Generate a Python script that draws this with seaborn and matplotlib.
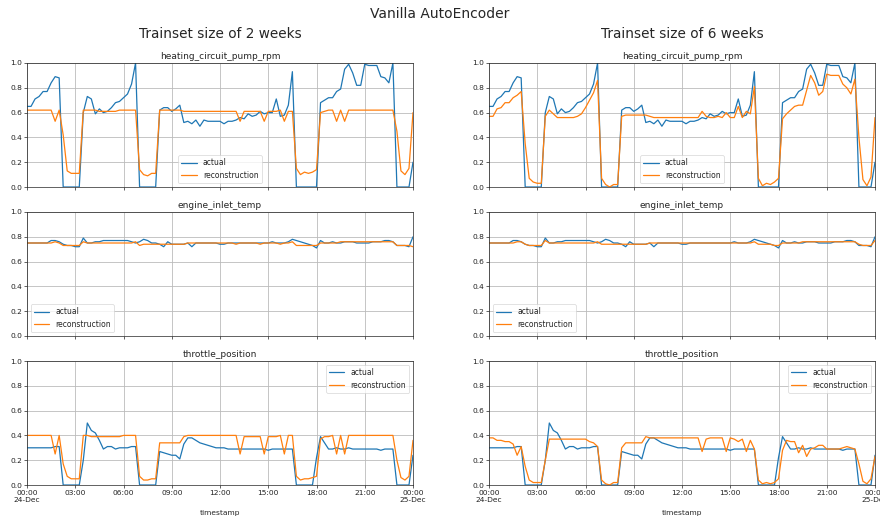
import numpy as np
import pandas as pd
import matplotlib
matplotlib.use("Agg")
import matplotlib.pyplot as plt
import matplotlib.dates as mdates
from matplotlib.ticker import FuncFormatter
import seaborn as sns

# ---------------- data (15-minute samples, 24-Dec 00:00 .. 25-Dec 00:00) ----------------
start_time = "2023-12-24 00:00"
n_points = 97
variables = ["heating_circuit_pump_rpm", "engine_inlet_temp", "throttle_position"]
panel_titles = ["Trainset size of 2 weeks", "Trainset size of 6 weeks"]
series_names = ["actual", "reconstruction"]

heat_actual = [
    0.65, 0.65, 0.71, 0.73, 0.77, 0.77, 0.84, 0.89, 0.88,
    0.00, 0.00, 0.00, 0.00, 0.00,
    0.60, 0.73, 0.71, 0.59, 0.63, 0.60, 0.61, 0.64, 0.68, 0.69, 0.72, 0.75, 0.83, 1.00,
    0.00, 0.00, 0.00, 0.00, 0.00,
    0.62, 0.64, 0.64, 0.61, 0.63, 0.66, 0.52, 0.53, 0.51, 0.54, 0.49, 0.54, 0.53, 0.53,
    0.53, 0.53, 0.51, 0.53, 0.53, 0.54, 0.56, 0.55, 0.59, 0.57, 0.58, 0.61, 0.59, 0.60,
    0.60, 0.71, 0.57, 0.58, 0.66, 0.93,
    0.00, 0.00, 0.00, 0.00, 0.00, 0.00,
    0.68, 0.70, 0.72, 0.72, 0.77, 0.79, 0.95, 0.99, 0.92, 0.82, 0.82, 0.99, 0.98, 0.98,
    0.98, 0.89, 0.88, 0.84, 1.00,
    0.00, 0.00, 0.00, 0.00,
    0.20,
]
heat_recon_2w = [
    0.62, 0.62, 0.62, 0.62, 0.62, 0.62, 0.62, 0.53, 0.62,
    0.42, 0.13, 0.11, 0.11, 0.11,
    0.62, 0.62, 0.62, 0.62, 0.61, 0.61, 0.61, 0.61, 0.61, 0.62, 0.62, 0.62, 0.62, 0.62,
    0.14, 0.10, 0.09, 0.11, 0.11,
    0.62, 0.62, 0.62, 0.62, 0.62, 0.62, 0.61, 0.61, 0.61, 0.61, 0.61, 0.61, 0.61, 0.61,
    0.61, 0.61, 0.61, 0.61, 0.61, 0.61, 0.53, 0.61, 0.61, 0.61, 0.61, 0.61, 0.53, 0.61,
    0.61, 0.61, 0.62, 0.53, 0.61, 0.61,
    0.15, 0.10, 0.12, 0.11, 0.12, 0.14,
    0.60, 0.61, 0.62, 0.62, 0.53, 0.62, 0.53, 0.62, 0.62, 0.62, 0.62, 0.62, 0.62, 0.62,
    0.62, 0.62, 0.62, 0.62, 0.62,
    0.45, 0.13, 0.10, 0.15,
    0.60,
]
heat_recon_6w = [
    0.57, 0.57, 0.63, 0.64, 0.68, 0.68, 0.72, 0.74, 0.77,
    0.35, 0.07, 0.04, 0.03, 0.03,
    0.57, 0.62, 0.59, 0.56, 0.56, 0.56, 0.56, 0.56, 0.57, 0.59, 0.64, 0.70, 0.76, 0.86,
    0.07, 0.02, 0.00, 0.02, 0.02,
    0.57, 0.58, 0.58, 0.58, 0.58, 0.58, 0.58, 0.57, 0.56, 0.56, 0.56, 0.56, 0.56, 0.56,
    0.56, 0.56, 0.56, 0.56, 0.56, 0.56, 0.61, 0.57, 0.56, 0.56, 0.57, 0.56, 0.60, 0.56,
    0.56, 0.65, 0.56, 0.61, 0.59, 0.81,
    0.07, 0.01, 0.03, 0.02, 0.04, 0.07,
    0.55, 0.59, 0.62, 0.65, 0.66, 0.66, 0.78, 0.90, 0.84, 0.74, 0.77, 0.91, 0.90, 0.90,
    0.90, 0.83, 0.80, 0.75, 0.87,
    0.40, 0.06, 0.01, 0.08,
    0.56,
]

engine_actual = [
    0.75, 0.75, 0.75, 0.75, 0.75, 0.75, 0.77, 0.77, 0.76,
    0.74, 0.73, 0.73, 0.72, 0.72,
    0.79, 0.75, 0.75, 0.76, 0.76, 0.77, 0.77, 0.77, 0.77, 0.77, 0.77, 0.77, 0.76, 0.75,
    0.76, 0.78, 0.77, 0.75, 0.75,
    0.74, 0.72, 0.76, 0.74, 0.74, 0.74, 0.74, 0.75, 0.72, 0.75, 0.75, 0.75, 0.75, 0.75,
    0.75, 0.74, 0.74, 0.75, 0.75, 0.75, 0.75, 0.75, 0.75, 0.75, 0.75, 0.75, 0.75, 0.75,
    0.76, 0.75, 0.75, 0.75, 0.76, 0.78,
    0.77, 0.76, 0.75, 0.74, 0.73, 0.71,
    0.77, 0.75, 0.75, 0.76, 0.75, 0.75, 0.76, 0.76, 0.76, 0.75, 0.75, 0.75, 0.75, 0.76,
    0.76, 0.76, 0.77, 0.77, 0.76,
    0.73, 0.73, 0.73, 0.72,
    0.80,
]
engine_recon_2w = [
    0.75, 0.75, 0.75, 0.75, 0.75, 0.75, 0.75, 0.76, 0.75,
    0.73, 0.73, 0.73, 0.73, 0.73,
    0.76, 0.75, 0.75, 0.75, 0.75, 0.75, 0.75, 0.75, 0.75, 0.75, 0.75, 0.75, 0.75, 0.76,
    0.73, 0.74, 0.74, 0.74, 0.74,
    0.74, 0.74, 0.74, 0.74, 0.74, 0.74, 0.74, 0.75, 0.75, 0.75, 0.75, 0.75, 0.75, 0.75,
    0.75, 0.75, 0.75, 0.75, 0.75, 0.74, 0.75, 0.75, 0.75, 0.75, 0.75, 0.74, 0.75, 0.75,
    0.75, 0.75, 0.74, 0.75, 0.75, 0.76,
    0.73, 0.73, 0.73, 0.73, 0.73, 0.73,
    0.75, 0.75, 0.75, 0.75, 0.75, 0.76, 0.76, 0.76, 0.76, 0.76, 0.76, 0.76, 0.76, 0.76,
    0.76, 0.76, 0.76, 0.76, 0.76,
    0.73, 0.73, 0.73, 0.73,
    0.72,
]
engine_recon_6w = [
    0.75, 0.75, 0.75, 0.75, 0.75, 0.75, 0.75, 0.76, 0.76,
    0.74, 0.73, 0.73, 0.73, 0.73,
    0.77, 0.75, 0.75, 0.75, 0.75, 0.75, 0.75, 0.75, 0.75, 0.75, 0.75, 0.75, 0.75, 0.76,
    0.74, 0.74, 0.74, 0.74, 0.74,
    0.74, 0.74, 0.74, 0.74, 0.74, 0.74, 0.74, 0.75, 0.75, 0.75, 0.75, 0.75, 0.75, 0.75,
    0.75, 0.75, 0.75, 0.75, 0.75, 0.75, 0.75, 0.75, 0.75, 0.75, 0.75, 0.75, 0.75, 0.75,
    0.75, 0.75, 0.75, 0.75, 0.75, 0.76,
    0.74, 0.74, 0.74, 0.74, 0.73, 0.73,
    0.75, 0.75, 0.75, 0.75, 0.75, 0.76, 0.76, 0.76, 0.76, 0.76, 0.76, 0.76, 0.76, 0.76,
    0.76, 0.76, 0.76, 0.76, 0.76,
    0.74, 0.73, 0.73, 0.73,
    0.77,
]

throttle_actual = [
    0.30, 0.30, 0.30, 0.30, 0.30, 0.30, 0.30, 0.31, 0.31,
    0.00, 0.00, 0.00, 0.00, 0.00,
    0.20, 0.50, 0.44, 0.42, 0.36, 0.29, 0.31, 0.31, 0.29, 0.30, 0.30, 0.30, 0.31, 0.31,
    0.00, 0.00, 0.00, 0.00, 0.00,
    0.27, 0.26, 0.25, 0.24, 0.24, 0.21, 0.33, 0.38, 0.38, 0.36, 0.34, 0.33, 0.32, 0.31,
    0.30, 0.30, 0.30, 0.29, 0.29, 0.29, 0.29, 0.29, 0.29, 0.29, 0.29, 0.29, 0.29, 0.28,
    0.29, 0.29, 0.29, 0.29, 0.29, 0.29,
    0.00, 0.00, 0.00, 0.00, 0.00, 0.22,
    0.39, 0.34, 0.29, 0.29, 0.30, 0.29, 0.29, 0.30, 0.29, 0.29, 0.29, 0.29, 0.29, 0.29,
    0.29, 0.28, 0.29, 0.29, 0.29,
    0.00, 0.00, 0.00, 0.00,
    0.24,
]
throttle_recon_2w = [
    0.40, 0.40, 0.40, 0.40, 0.40, 0.40, 0.40, 0.25, 0.40,
    0.17, 0.07, 0.05, 0.05, 0.05,
    0.40, 0.40, 0.39, 0.39, 0.39, 0.39, 0.39, 0.39, 0.39, 0.39, 0.40, 0.40, 0.40, 0.40,
    0.07, 0.04, 0.04, 0.05, 0.05,
    0.34, 0.34, 0.34, 0.34, 0.34, 0.34, 0.39, 0.40, 0.40, 0.40, 0.40, 0.40, 0.40, 0.40,
    0.40, 0.40, 0.40, 0.40, 0.40, 0.40, 0.25, 0.39, 0.39, 0.39, 0.39, 0.39, 0.25, 0.39,
    0.39, 0.39, 0.40, 0.25, 0.40, 0.40,
    0.07, 0.04, 0.05, 0.05, 0.06, 0.07,
    0.37, 0.39, 0.39, 0.40, 0.25, 0.40, 0.25, 0.40, 0.40, 0.40, 0.40, 0.40, 0.40, 0.40,
    0.40, 0.40, 0.40, 0.40, 0.40,
    0.20, 0.06, 0.04, 0.07,
    0.36,
]
throttle_recon_6w = [
    0.38, 0.38, 0.36, 0.36, 0.35, 0.35, 0.33, 0.24, 0.31,
    0.15, 0.04, 0.02, 0.02, 0.02,
    0.20, 0.37, 0.37, 0.37, 0.37, 0.37, 0.37, 0.37, 0.37, 0.37, 0.37, 0.35, 0.34, 0.31,
    0.04, 0.01, 0.00, 0.02, 0.02,
    0.30, 0.34, 0.34, 0.34, 0.34, 0.34, 0.39, 0.38, 0.38, 0.38, 0.38, 0.38, 0.38, 0.38,
    0.38, 0.38, 0.38, 0.38, 0.38, 0.38, 0.27, 0.37, 0.38, 0.38, 0.38, 0.38, 0.27, 0.38,
    0.37, 0.35, 0.37, 0.27, 0.36, 0.29,
    0.04, 0.01, 0.02, 0.01, 0.02, 0.05,
    0.28, 0.36, 0.35, 0.35, 0.26, 0.32, 0.23, 0.29, 0.30, 0.32, 0.32, 0.29, 0.29, 0.29,
    0.29, 0.30, 0.31, 0.30, 0.29,
    0.17, 0.03, 0.01, 0.05,
    0.23,
]

actual_values = {
    "heating_circuit_pump_rpm": heat_actual,
    "engine_inlet_temp": engine_actual,
    "throttle_position": throttle_actual,
}
recon_values = [
    {"heating_circuit_pump_rpm": heat_recon_2w,
     "engine_inlet_temp": engine_recon_2w,
     "throttle_position": throttle_recon_2w},
    {"heating_circuit_pump_rpm": heat_recon_6w,
     "engine_inlet_temp": engine_recon_6w,
     "throttle_position": throttle_recon_6w},
]

timestamps = pd.date_range(start_time, periods=n_points, freq="15min")

# ---------------- styling ----------------
sns.set_style("ticks")
plt.rcParams.update({
    "font.family": ["DejaVu Sans"],
    "axes.linewidth": 0.5,
    "axes.edgecolor": "#222222",
    "xtick.major.size": 2.0,
    "ytick.major.size": 2.0,
    "xtick.major.width": 0.5,
    "ytick.major.width": 0.5,
    "xtick.labelsize": 5.4,
    "ytick.labelsize": 5.4,
    "xtick.major.pad": 1.5,
    "ytick.major.pad": 1.5,
    "xtick.color": "#222222",
    "ytick.color": "#222222",
})
palette = ["#1f77b4", "#ff7f0e"]

W, H = 880, 517
fig = plt.figure(figsize=(W / 100, H / 100), dpi=100)

col_left_px = [27, 489]
ax_width_px = 386
row_top_px = [63, 212, 361]
ax_height_px = 124
legend_locs = ["lower center", "lower left", "upper right"]


def fmt_time(x, pos=None):
    d = mdates.num2date(x)
    if d.hour == 0 and d.minute == 0:
        return d.strftime("%H:%M") + "\n" + d.strftime("%d-%b")
    return d.strftime("%H:%M")


for c in range(2):
    for r, var in enumerate(variables):
        left = col_left_px[c] / W
        bottom = 1 - (row_top_px[r] + ax_height_px) / H
        ax = fig.add_axes([left, bottom, ax_width_px / W, ax_height_px / H])
        df = pd.DataFrame({
            "timestamp": np.concatenate([timestamps, timestamps]),
            "value": list(actual_values[var]) + list(recon_values[c][var]),
            "series": [series_names[0]] * n_points + [series_names[1]] * n_points,
        })
        sns.lineplot(data=df, x="timestamp", y="value", hue="series",
                     palette=palette, linewidth=0.9, ax=ax, legend=True)
        ax.set_xlim(timestamps[0], timestamps[-1])
        ax.set_ylim(0, 1.0)
        ax.set_yticks([0, 0.2, 0.4, 0.6, 0.8, 1.0])
        ax.yaxis.set_major_formatter(FuncFormatter(lambda v, p: f"{v:.1f}"))
        ax.xaxis.set_major_locator(mdates.HourLocator(byhour=range(0, 24, 3)))
        ax.xaxis.set_major_formatter(FuncFormatter(fmt_time))
        ax.grid(True, color="#bbbbbb", linewidth=0.6)
        ax.set_axisbelow(True)
        ax.set_title(var, fontsize=6.5, pad=3)
        ax.set_ylabel("")
        if r < 2:
            ax.tick_params(axis="x", labelbottom=False)
            ax.set_xlabel("")
        else:
            ax.set_xlabel("timestamp", fontsize=5.4, labelpad=5)
        leg = ax.legend(loc=legend_locs[r], fontsize=5.5, frameon=True,
                        fancybox=True, framealpha=0.8, borderpad=0.4,
                        handlelength=2.0)
        leg.get_frame().set_linewidth(0.5)
        leg.get_frame().set_edgecolor("#cccccc")

    center_x = (col_left_px[c] + ax_width_px / 2) / W
    fig.text(center_x, 1 - 34 / H, panel_titles[c], ha="center", va="center", fontsize=9.8)

fig.text(0.5, 1 - 14 / H, "Vanilla AutoEncoder", ha="center", va="center", fontsize=10)

fig.savefig("out.png", dpi=100)
